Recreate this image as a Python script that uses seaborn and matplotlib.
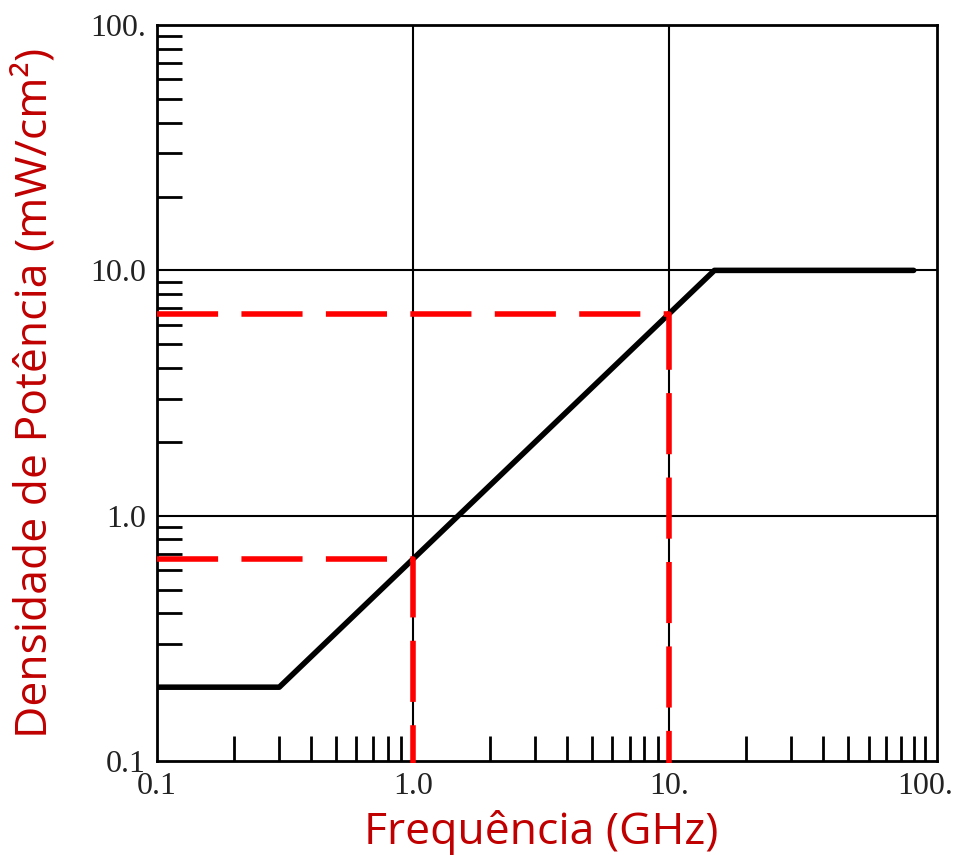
import numpy as np
import pandas as pd
import seaborn as sns
import matplotlib.pyplot as plt
from matplotlib.ticker import LogLocator, FixedLocator, FixedFormatter, NullFormatter

# limite de densidade de potência (curva em degraus, escala log-log)
freq_ghz = [0.1, 0.3, 15.0, 90.0]
densidade = [0.2, 0.2, 10.0, 10.0]

# pontos de leitura (linhas tracejadas vermelhas)
freq_ref = [1.0, 10.0]
dens_ref = [0.667, 6.67]

x_ticks = [0.1, 1.0, 10.0, 100.0]
x_labels = ['0.1', '1.0', '10.', '100.']
y_ticks = [0.1, 1.0, 10.0, 100.0]
y_labels = ['0.1', '1.0', '10.0', '100.']

sns.set_style("white")
plt.rcParams['font.family'] = ['Liberation Serif', 'DejaVu Serif']

df = pd.DataFrame({'f': freq_ghz, 'S': densidade})

fig = plt.figure(figsize=(9.54, 8.55), dpi=100)
ax = fig.add_axes([0.1646, 0.1099, 0.8176, 0.8608])

ax.set_xscale('log')
ax.set_yscale('log')
ax.set_xlim(0.1, 111)
ax.set_ylim(0.1, 100)

# grade nas décadas
for v in [1.0, 10.0]:
    ax.axvline(v, color='black', lw=1.5, zorder=1)
    ax.axhline(v, color='black', lw=1.5, zorder=1)

sns.lineplot(data=df, x='f', y='S', ax=ax, color='black', lw=4,
             sort=False, estimator=None, zorder=3)

for fr, dr in zip(freq_ref, dens_ref):
    ax.plot([0.1, fr, fr], [dr, dr, 0.0985], color='#ff0000', lw=4,
            dashes=(11, 4.2), zorder=4, clip_on=False, solid_joinstyle='miter')

ax.xaxis.set_major_locator(FixedLocator(x_ticks))
ax.xaxis.set_major_formatter(FixedFormatter(x_labels))
ax.yaxis.set_major_locator(FixedLocator(y_ticks))
ax.yaxis.set_major_formatter(FixedFormatter(y_labels))
# no eixo x o 100 também leva um traço
ax.xaxis.set_minor_locator(FixedLocator([100.0] + [s * 10.0 ** d for d in (-1, 0, 1) for s in range(2, 10)]))
ax.xaxis.remove_overlapping_locs = False
ax.yaxis.set_minor_locator(LogLocator(base=10, subs=np.arange(2, 10), numticks=20))
ax.xaxis.set_minor_formatter(NullFormatter())
ax.yaxis.set_minor_formatter(NullFormatter())

ax.tick_params(which='major', length=0, labelsize=23, pad=8, colors='#222222',
               left=True, bottom=True)
ax.tick_params(which='minor', direction='in', length=18, width=2,
               color='black', left=True, bottom=True, top=False, right=False)

for sp in ax.spines.values():
    sp.set_color('black')
    sp.set_linewidth(2)

lab = dict(family=['Open Sans', 'DejaVu Sans'], color='#c00000', fontsize=32)
ax.set_xlabel('Frequência (GHz)', **lab)
ax.set_ylabel('Densidade de Potência (mW/cm²)', **lab)
ax.xaxis.set_label_coords(0.492, -0.067)
ax.yaxis.set_label_coords(-0.127, 0.5)

fig.savefig('out.png', dpi=100)
